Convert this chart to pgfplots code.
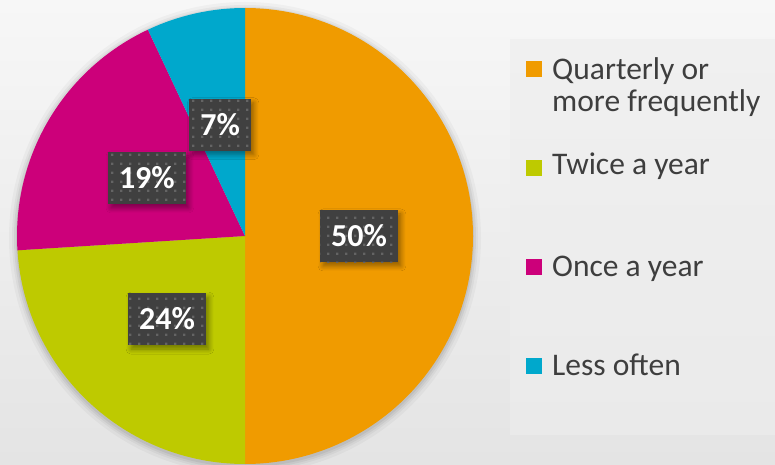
\documentclass[border=0pt]{standalone}
\usepackage{pgfplots}
\pgfplotsset{compat=1.18}
\usepackage{fontspec}
\setmainfont{Carlito}
\usetikzlibrary{patterns,shadows.blur}

\definecolor{cOrange}{RGB}{240,155,0}
\definecolor{cGreen}{RGB}{190,202,0}
\definecolor{cMagenta}{RGB}{204,0,122}
\definecolor{cCyan}{RGB}{0,168,204}
\definecolor{boxgray}{RGB}{64,64,64}
\definecolor{dotgray}{RGB}{100,100,100}
\definecolor{txtgray}{RGB}{62,62,62}
\definecolor{bgtop}{RGB}{247,247,247}
\definecolor{bgbot}{RGB}{228,228,228}
\definecolor{pntop}{RGB}{240,240,240}
\definecolor{pnbot}{RGB}{234,234,234}

\pgfdeclarepatternformonly{bigdots}{\pgfpointorigin}{\pgfpoint{9pt}{9pt}}{\pgfpoint{9pt}{9pt}}%
  {\pgfpathrectangle{\pgfpoint{3.3pt}{3.3pt}}{\pgfpoint{2.5pt}{2.5pt}}\pgfusepath{fill}}

\tikzset{lbl/.style={fill=boxgray, text=white, font=\fontsize{32}{34}\selectfont\bfseries,
        minimum height=52pt, inner xsep=11pt, inner ysep=0pt,
        blur shadow={shadow xshift=3pt, shadow yshift=-4pt, shadow blur radius=5pt,
                     shadow blur steps=8, shadow opacity=40},
        postaction={pattern=bigdots, pattern color=dotgray}}}

\begin{document}
\begin{tikzpicture}
\begin{axis}[
    x=1pt, y=1pt,
    xmin=0, xmax=775, ymin=0, ymax=464,
    hide axis,
    clip=true,
]
% background
\shade[top color=bgtop, bottom color=bgbot] (axis cs:0,0) rectangle (axis cs:775,464);
\shade[top color=pntop, bottom color=pnbot] (axis cs:510,30) rectangle (axis cs:775,424);

% pie: share (%) / colour, clockwise from 12 o'clock
\def\piedata{50/cOrange,24/cGreen,19/cMagenta,7/cCyan}

% soft shadow round the pie
\foreach \r/\o in {236/0.03,233/0.04,231/0.05,229/0.06} {
  \edef\doit{\noexpand\fill[black, opacity=\o] (axis cs:245,226) circle[radius=\r pt];}
  \doit
}

\xdef\acc{0}
\foreach \v/\c in \piedata {
  \pgfmathsetmacro{\a}{90-3.6*\acc}
  \pgfmathsetmacro{\b}{90-3.6*(\acc+\v)}
  \edef\doit{\noexpand\fill[\c] (axis cs:245,228) -- ++(\a:228pt)
     arc[start angle=\a, end angle=\b, radius=228pt] -- cycle;}
  \doit
  \pgfmathsetmacro{\n}{\acc+\v}\xdef\acc{\n}
}

\xdef\acc{0}
\foreach \v/\c in \piedata {
  \pgfmathsetmacro{\m}{90-3.6*(\acc+\v/2)}
  \pgfmathsetmacro{\lx}{245+114*cos(\m)}
  \pgfmathsetmacro{\ly}{228+114*sin(\m)}
  \edef\doit{\noexpand\node[lbl] at (axis cs:\lx,\ly) {\v\noexpand\%};}
  \doit
  \pgfmathsetmacro{\n}{\acc+\v}\xdef\acc{\n}
}

% legend
\begin{scope}[every node/.style={font=\fontsize{31.5}{32}\selectfont, text=txtgray, anchor=base west, inner sep=0pt}]
\fill[cOrange]  (axis cs:526,387) rectangle (axis cs:542,403);
\fill[cGreen]   (axis cs:526,288) rectangle (axis cs:542,304);
\fill[cMagenta] (axis cs:526,189) rectangle (axis cs:542,205);
\fill[cCyan]    (axis cs:526,90)  rectangle (axis cs:542,106);
\node at (axis cs:552,384) {Quarterly or};
\node at (axis cs:552,352) {more frequently};
\node at (axis cs:552,289) {Twice a year};
\node at (axis cs:552,188) {Once a year};
\node at (axis cs:552,89)  {Less often};
\end{scope}
\end{axis}
\end{tikzpicture}
\end{document}
